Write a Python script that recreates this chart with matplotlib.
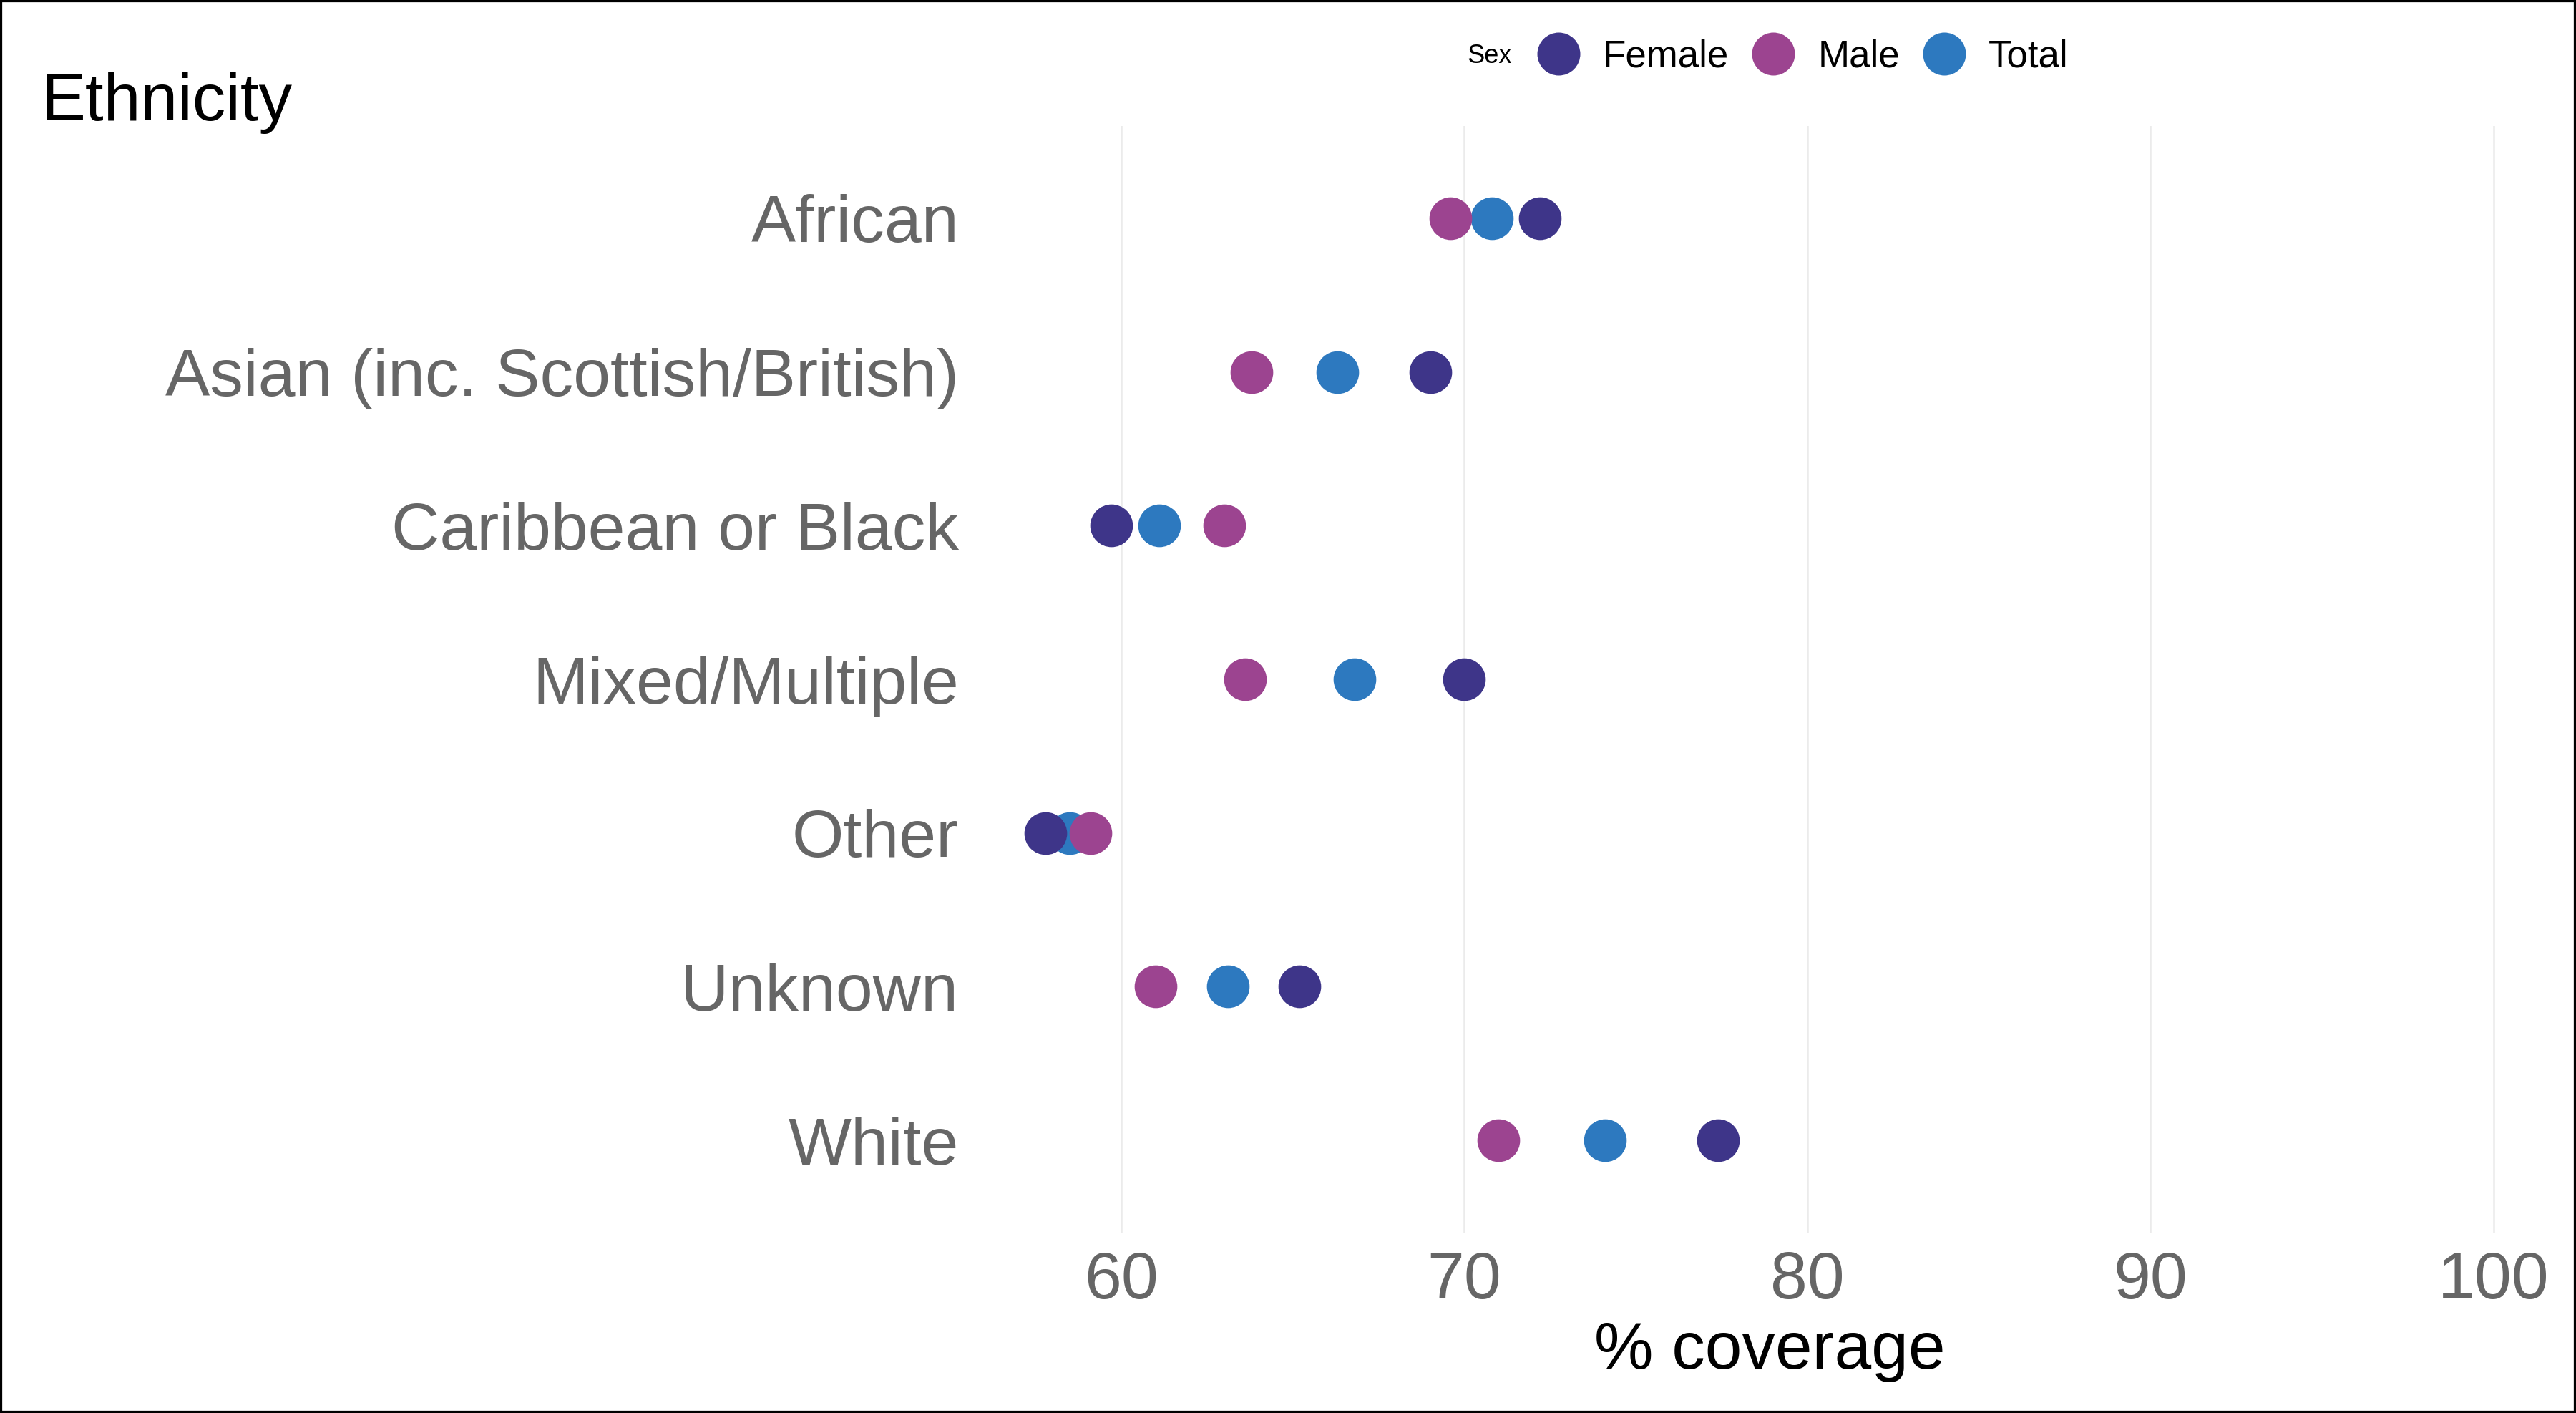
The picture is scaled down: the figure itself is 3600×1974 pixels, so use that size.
import matplotlib
matplotlib.use('Agg')
import matplotlib.pyplot as plt
from matplotlib.lines import Line2D
from matplotlib.patches import Rectangle

plt.rcParams['font.family'] = ['Liberation Sans', 'DejaVu Sans']

# Data
ethnicity = ['African', 'Asian (inc. Scottish/British)', 'Caribbean or Black',
             'Mixed/Multiple', 'Other', 'Unknown', 'White']
female = [72.2, 69.0, 59.7, 70.0, 57.8, 65.2, 77.4]
male = [69.6, 63.8, 63.0, 63.6, 59.1, 61.0, 71.0]
total = [70.8, 66.3, 61.1, 66.8, 58.5, 63.1, 74.1]

colors = {'Female': '#3E3589', 'Male': '#9C4490', 'Total': '#2D79BF'}

fig = plt.figure(figsize=(12, 6.58), dpi=300)
ax = fig.add_axes([0.378, 0.1277, 0.618, 0.7831])

ypos = list(range(len(ethnicity)))
# Total first so Female / Male sit on top of it
ax.scatter(total, ypos, s=205, color=colors['Total'], linewidths=0, zorder=3)
ax.scatter(female, ypos, s=205, color=colors['Female'], linewidths=0, zorder=4)
ax.scatter(male, ypos, s=205, color=colors['Male'], linewidths=0, zorder=5)

ax.set_xlim(55.7, 102.1)
ax.set_ylim(len(ethnicity) - 1 + 0.6, -0.6)
ax.set_yticks(ypos)
ax.set_yticklabels(ethnicity)
ax.set_xticks([60, 70, 80, 90, 100])

ax.grid(axis='x', color='#EBEBEB', linewidth=0.6)
ax.set_axisbelow(True)
for s in ax.spines.values():
    s.set_visible(False)
ax.tick_params(axis='both', length=0, labelsize=22.4, labelcolor='#666666')
ax.tick_params(axis='y', pad=5)
ax.tick_params(axis='x', pad=6)
ax.set_xlabel('% coverage', fontsize=22.3, color='black', labelpad=3)

fig.text(57 / 3600, 1 - 168 / 1974, 'Ethnicity', fontsize=22.3, color='black',
         va='baseline', ha='left')

# Legend across the top
handles = [Line2D([], [], marker='o', linestyle='', markersize=14.4,
                  markeredgewidth=0, color=colors[k]) for k in ['Female', 'Male', 'Total']]
fig.legend(handles, ['Female', 'Male', 'Total'], loc='center left',
           bbox_to_anchor=(2146 / 3600, 1 - 80 / 1974), ncol=3, frameon=False,
           fontsize=12.7, handlelength=1.2, handletextpad=0.57, columnspacing=0.58,
           borderpad=0, borderaxespad=0)
fig.text(2050 / 3600, 1 - 78 / 1974, 'Sex', fontsize=8.7, va='center', ha='left')

fig.patches.append(Rectangle((0, 0), 1, 1, transform=fig.transFigure, fill=False,
                             edgecolor='black', linewidth=1.5))

fig.savefig('out.png', dpi=300, facecolor='white')
